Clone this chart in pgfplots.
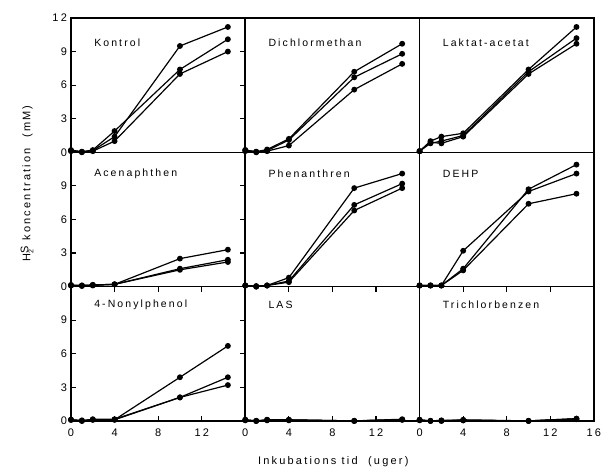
\documentclass[border=0pt]{standalone}
\usepackage{pgfplots}
\pgfplotsset{compat=1.18}
\usepgfplotslibrary{groupplots}
\usepackage{fontspec}
\setmainfont{Liberation Sans}
\newfontfamily\spaced[LetterSpace=20]{Liberation Sans}
\tikzset{panel/.style={anchor=west, font=\spaced\fontsize{10.5}{12}\selectfont}}
\begin{document}
\begin{tikzpicture}
\begin{groupplot}[
  group style={group name=g, group size=3 by 3, horizontal sep=0pt, vertical sep=0pt},
  width=174.3pt, height=134.3pt, scale only axis,
  xmin=0, xmax=16, ymin=0, ymax=12,
  xtick=\empty, ytick=\empty,
  tick align=inside, major tick length=5pt,
  axis line style={line width=1.5pt},
  every axis/.append style={line width=1.5pt},
  axis background/.style={draw=black, line width=1.6pt},
  every tick/.style={black, line width=1.2pt},
  clip=false,
  every axis plot post/.append style={black, line width=1.2pt, mark=*, mark size=2.3pt, mark options={solid, fill=black}},
  tick label style={font=\spaced\fontsize{11}{13}\selectfont},
  xticklabel style={yshift=-4pt},
  /pgf/number format/assume math mode=true,
]
% Kontrol
\nextgroupplot[ytick={0,3,6,9,12}]
\addplot coordinates {(0,0.2) (1,0.05) (2,0.15) (4,1.4) (10,9.5) (14.4,11.2)};
\addplot coordinates {(0,0.15) (1,0.05) (2,0.2) (4,1.9) (10,7.4) (14.4,10.1)};
\addplot coordinates {(0,0.1) (1,0) (2,0.1) (4,1.0) (10,7.0) (14.4,9.0)};
\node[panel] at (rel axis cs:0.11,0.815) {Kontrol};
% Dichlormethan
\nextgroupplot
\addplot coordinates {(0,0.2) (1,0.05) (2,0.25) (4,1.2) (10,7.2) (14.4,9.7)};
\addplot coordinates {(0,0.2) (1,0.05) (2,0.15) (4,1.1) (10,6.7) (14.4,8.8)};
\addplot coordinates {(0,0.1) (1,0) (2,0.1) (4,0.6) (10,5.6) (14.4,7.9)};
\node[panel] at (rel axis cs:0.11,0.815) {Dichlormethan};
% Laktat-acetat
\nextgroupplot
\addplot coordinates {(0,0.1) (1,1.0) (2,1.4) (4,1.7) (10,7.4) (14.4,11.2)};
\addplot coordinates {(0,0.1) (1,0.8) (2,1.0) (4,1.5) (10,7.2) (14.4,10.2)};
\addplot coordinates {(0,0.1) (1,0.9) (2,0.8) (4,1.4) (10,7.0) (14.4,9.7)};
\node[panel] at (rel axis cs:0.11,0.815) {Laktat-acetat};
% Acenaphthen
\nextgroupplot[ytick={0,3,6,9}]
\addplot coordinates {(0,0.15) (1,0.1) (2,0.15) (4,0.2) (10,2.5) (14.4,3.3)};
\addplot coordinates {(0,0.1) (1,0.1) (2,0.15) (4,0.2) (10,1.6) (14.4,2.4)};
\addplot coordinates {(0,0.1) (1,0.05) (2,0.1) (4,0.2) (10,1.5) (14.4,2.2)};
\node[panel] at (rel axis cs:0.11,0.84) {Acenaphthen};
% Phenanthren
\nextgroupplot
\addplot coordinates {(0,0.1) (1,0.05) (2,0.1) (4,0.8) (10,8.8) (14.4,10.1)};
\addplot coordinates {(0,0.1) (1,0) (2,0.1) (4,0.5) (10,7.3) (14.4,9.2)};
\addplot coordinates {(0,0.1) (1,0) (2,0.1) (4,0.4) (10,6.8) (14.4,8.8)};
\node[panel] at (rel axis cs:0.11,0.84) {Phenanthren};
% DEHP
\nextgroupplot
\addplot coordinates {(0,0.1) (1,0.1) (2,0.1) (4,3.2) (10,8.5) (14.4,10.1)};
\addplot coordinates {(0,0.1) (1,0.1) (2,0.1) (4,1.6) (10,8.7) (14.4,10.9)};
\addplot coordinates {(0,0.1) (1,0.1) (2,0.1) (4,1.45) (10,7.4) (14.4,8.3)};
\node[panel] at (rel axis cs:0.11,0.84) {DEHP};
% 4-Nonylphenol
\nextgroupplot[ytick={0,3,6,9}, xtick={0,4,8,12}]
\addplot coordinates {(0,0.1) (1,0.05) (2,0.1) (4,0.1) (10,3.9) (14.4,6.7)};
\addplot coordinates {(0,0.1) (1,0) (2,0.15) (4,0.15) (10,2.1) (14.4,3.9)};
\addplot coordinates {(0,0.1) (1,0) (2,0.1) (4,0.1) (10,2.1) (14.4,3.2)};
\node[panel] at (rel axis cs:0.11,0.865) {4-Nonylphenol};
% LAS
\nextgroupplot[xtick={0,4,8,12}]
\addplot coordinates {(0,0.1) (1,0) (2,0.1) (4,0.1) (10,0) (14.4,0.1)};
\addplot coordinates {(0,0.1) (1,0) (2,0.05) (4,0.05) (10,0) (14.4,0.1)};
\addplot coordinates {(0,0.05) (1,0) (2,0.1) (4,0.1) (10,0) (14.4,0.15)};
\node[panel] at (rel axis cs:0.11,0.865) {LAS};
% Trichlorbenzen
\nextgroupplot[xtick={0,4,8,12,16}]
\addplot coordinates {(0,0.1) (1,0) (2,0) (4,0.05) (10,0) (14.4,0.2)};
\addplot coordinates {(0,0.1) (1,0) (2,0.05) (4,0.05) (10,0) (14.4,0.15)};
\addplot coordinates {(0,0.05) (1,0) (2,0) (4,0.1) (10,0) (14.4,0.2)};
\node[panel] at (rel axis cs:0.11,0.865) {Trichlorbenzen};
\end{groupplot}
\node[rotate=90, font=\spaced\fontsize{11}{13}\selectfont] at ([xshift=-44pt,yshift=-31pt]g c1r1.south west)
  {H\makebox[0pt][l]{\raisebox{-3pt}{\scriptsize 2}}\raisebox{2pt}{S} koncentration\ \ (mM)};
\node[font=\spaced\fontsize{11}{13}\selectfont] at ([xshift=88pt,yshift=-41pt]g c2r3.south west)
  {Inkubations tid\ \ (uger)};
\pgfresetboundingbox
\path ([xshift=-71pt,yshift=18pt]g c1r1.north west) rectangle ([xshift=535pt,yshift=-457pt]g c1r1.north west);
\end{tikzpicture}
\end{document}
